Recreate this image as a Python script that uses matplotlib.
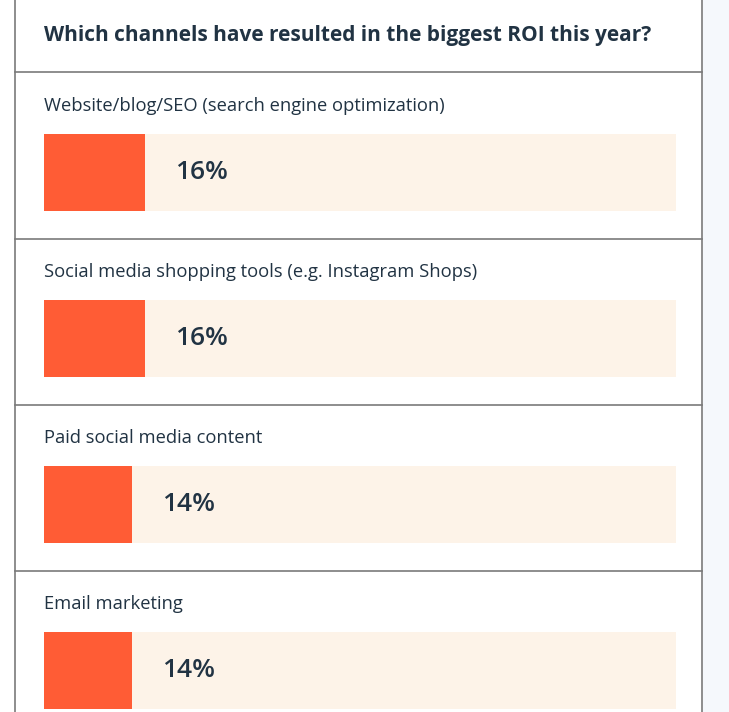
import matplotlib
matplotlib.use("Agg")
import matplotlib.pyplot as plt
from matplotlib.transforms import offset_copy

title = "Which channels have resulted in the biggest ROI this year?"
categories = [
    "Website/blog/SEO (search engine optimization)",
    "Social media shopping tools (e.g. Instagram Shops)",
    "Paid social media content",
    "Email marketing",
]
values = [16, 16, 14, 14]

W, H = 729, 712
DPI = 100
NAVY = "#213343"
ORANGE = "#FF5C35"
TRACK = "#FDF3E8"
LINE = "#7a7a7a"
SIDE = "#F5F8FC"
FONT = "Open Sans"

fig = plt.figure(figsize=(W / DPI, H / DPI), dpi=DPI)
fig.patch.set_facecolor("white")

def fx(px):
    return px / W

def fy(py):
    return 1 - py / H

# background / card layer
bg = fig.add_axes([0, 0, 1, 1])
bg.set_xlim(0, W)
bg.set_ylim(H, 0)
bg.axis("off")
bg.add_patch(plt.Rectangle((703, 0), W - 703, H, color=SIDE, lw=0))
bg.plot([15, 15], [0, H], color=LINE, lw=1.2)
bg.plot([702, 702], [0, H], color=LINE, lw=1.2)
for yl in [72, 239, 405, 571]:
    bg.plot([15, 702], [yl, yl], color=LINE, lw=1.2)

fig.text(fx(44), fy(36), title, fontsize=15.0, fontweight="bold",
         color=NAVY, family=FONT, va="center", ha="left")

row_h = 166
label_y0 = 106
bar_y0 = 134
bar_h = 77
track_x0, track_w = 44, 632

for i, (cat, val) in enumerate(zip(categories, values)):
    ly = label_y0 + i * row_h
    fig.text(fx(44), fy(ly), cat, fontsize=13.2, color=NAVY, family=FONT,
             va="center", ha="left")
    by = bar_y0 + i * row_h
    ax = fig.add_axes([fx(track_x0), fy(by + bar_h), track_w / W, bar_h / H])
    ax.set_xlim(0, 100)
    ax.set_ylim(-0.5, 0.5)
    ax.axis("off")
    ax.barh(0, 100, height=1.0, color=TRACK, lw=0)
    ax.barh(0, val, height=1.0, color=ORANGE, lw=0)
    tr = offset_copy(ax.transData, fig=fig, x=30 * 72 / DPI, y=0, units="points")
    ax.text(val, 0, f"{val}%", transform=tr, fontsize=19, fontweight="semibold",
            color=NAVY, family=FONT, va="center", ha="left")

fig.savefig("out.png", dpi=DPI, facecolor=fig.get_facecolor())
